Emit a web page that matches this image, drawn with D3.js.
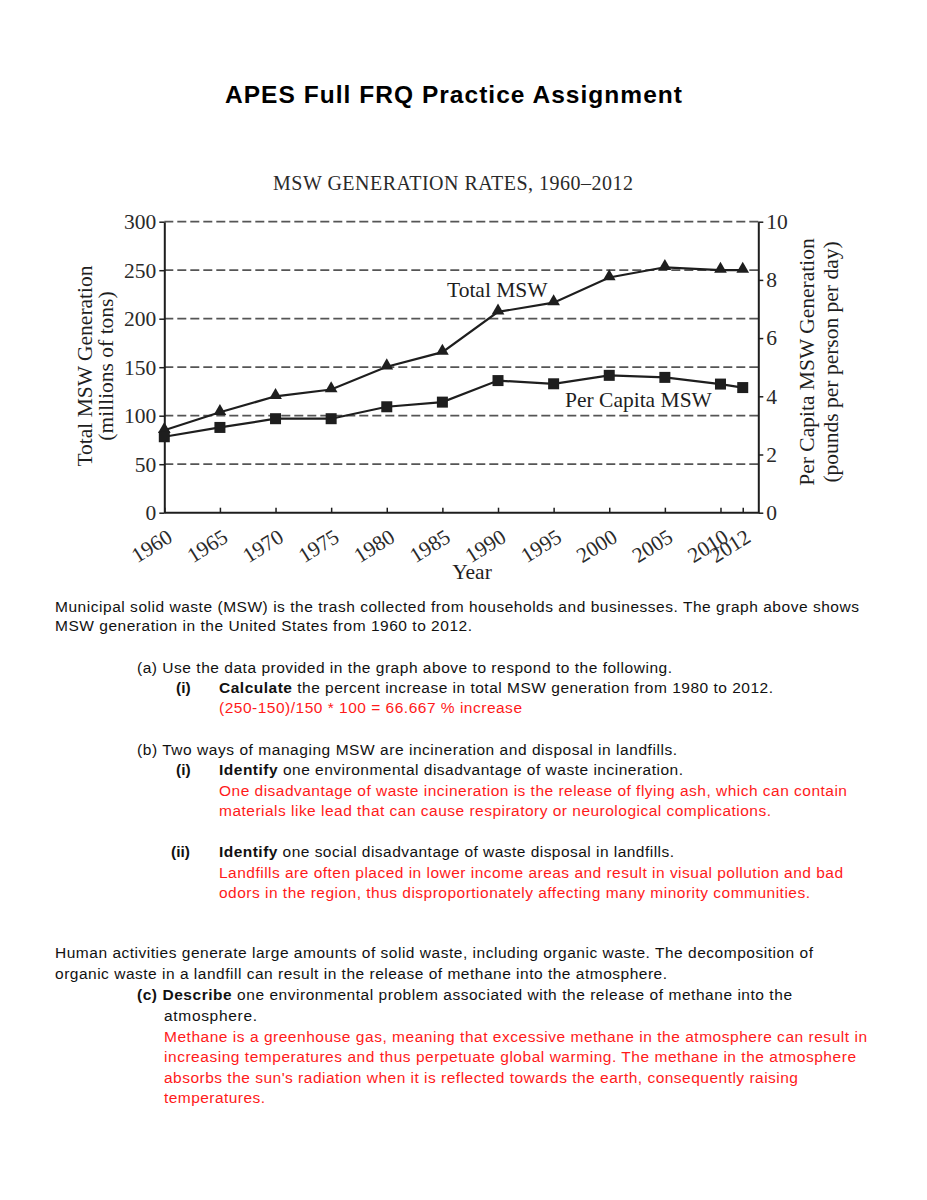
<!DOCTYPE html>
<html>
<head>
<meta charset="utf-8">
<script src="https://cdn.jsdelivr.net/npm/d3@7"></script>
<style>
  body { margin: 0; background: #fff; }
  svg { display: block; }
</style>
</head>
<body>
<svg id="page" width="927" height="1200"></svg>
<script>
// chart data
var years = [1960, 1965, 1970, 1975, 1980, 1985, 1990, 1995, 2000, 2005, 2010, 2012];
var totalMsw = [85, 103.5, 120, 127, 150.5, 165.5, 207, 216.5, 242.5, 253, 250, 250];   // millions of tons
var perCapita = [2.61, 2.93, 3.23, 3.23, 3.64, 3.80, 4.54, 4.43, 4.72, 4.65, 4.42, 4.30]; // lb per person per day
var leftTicks = [0, 50, 100, 150, 200, 250, 300];
var rightTicks = [0, 2, 4, 6, 8, 10];

var svg = d3.select("#page");
var serif = "'Liberation Serif', 'Times New Roman', serif";
var sans = "'Liberation Sans', Arial, sans-serif";
var ink = "#1e1e1e";

// stretch a text element's letter spacing so it ends at x1
function fitTo(sel, x0, x1) {
  var el = sel.node();
  var n = el.textContent.length;
  var w = el.getComputedTextLength();
  var ls = (x1 - x0 - w) / Math.max(1, n - 1);
  sel.style("letter-spacing", ls + "px");
}

// page title
var title = svg.append("text")
    .attr("x", 225).attr("y", 103)
    .attr("font-family", sans).attr("font-weight", "bold").attr("font-size", 24.5)
    .attr("fill", "#000")
    .text("APES Full FRQ Practice Assignment");
fitTo(title, 225, 682);

// ---------- chart ----------
var x = d3.scaleLinear().domain([1960, 2013.4]).range([164.3, 758.3]);
var y = d3.scaleLinear().domain([0, 300]).range([512.7, 221.7]);
var y2 = d3.scaleLinear().domain([0, 10]).range([512.7, 221.7]);

var chart = svg.append("g").attr("font-family", serif).attr("fill", ink);

var ct = chart.append("text")
    .attr("x", 273).attr("y", 190)
    .attr("font-size", 20).attr("fill", "#2a2a2a")
    .text("MSW GENERATION RATES, 1960\u20132012");
fitTo(ct, 273, 633);

// dashed grid
chart.append("g").selectAll("line")
    .data(leftTicks.filter(function(d) { return d > 0; }))
    .enter().append("line")
      .attr("x1", x(1960)).attr("x2", x.range()[1])
      .attr("y1", function(d) { return y(d); })
      .attr("y2", function(d) { return y(d); })
      .attr("stroke", "#555").attr("stroke-width", 1.7)
      .attr("stroke-dasharray", "9,4");

function styleAxis(g) {
  g.select(".domain").attr("stroke", ink).attr("stroke-width", 2);
  g.selectAll(".tick line").attr("stroke", ink).attr("stroke-width", 1.5);
  g.selectAll(".tick text").attr("font-family", serif).attr("font-size", 21.5).attr("fill", "#2a2a2a");
}

chart.append("g")
    .attr("transform", "translate(" + x(1960) + ",0)")
    .call(d3.axisLeft(y).tickValues(leftTicks).tickSize(5).tickSizeOuter(0).tickPadding(3))
    .call(styleAxis);

chart.append("g")
    .attr("transform", "translate(" + x.range()[1] + ",0)")
    .call(d3.axisRight(y2).tickValues(rightTicks).tickSize(5).tickSizeOuter(0).tickPadding(3))
    .call(styleAxis);

var xAxis = chart.append("g")
    .attr("transform", "translate(0," + y(0) + ")")
    .call(d3.axisBottom(x).tickValues(years).tickSize(-5).tickSizeOuter(0).tickFormat(d3.format("d")))
    .call(styleAxis);
xAxis.select(".domain").attr("d", "M" + x(1960) + ",0H" + x.range()[1]);
xAxis.selectAll(".tick text")
    .attr("text-anchor", "end")
    .attr("dy", null)
    .attr("y", 0)
    .attr("transform", "translate(9,28) rotate(-32)");

// axis titles
chart.append("text")
    .attr("transform", "translate(92,366) rotate(-90)")
    .attr("text-anchor", "middle").attr("font-size", 21.5)
    .text("Total MSW Generation");
chart.append("text")
    .attr("transform", "translate(113,366) rotate(-90)")
    .attr("text-anchor", "middle").attr("font-size", 21.5)
    .text("(millions of tons)");
chart.append("text")
    .attr("transform", "translate(814,362) rotate(-90)")
    .attr("text-anchor", "middle").attr("font-size", 21.5)
    .text("Per Capita MSW Generation");
chart.append("text")
    .attr("transform", "translate(838,362) rotate(-90)")
    .attr("text-anchor", "middle").attr("font-size", 21.5)
    .text("(pounds per person per day)");
chart.append("text")
    .attr("x", 472).attr("y", 579)
    .attr("text-anchor", "middle").attr("font-size", 21.5)
    .text("Year");

// series
var totalLine = d3.line()
    .x(function(d, i) { return x(years[i]); })
    .y(function(d) { return y(d); });
var capLine = d3.line()
    .x(function(d, i) { return x(years[i]); })
    .y(function(d) { return y2(d); });

chart.append("path").datum(totalMsw)
    .attr("d", totalLine).attr("fill", "none")
    .attr("stroke", ink).attr("stroke-width", 2.2);
chart.append("path").datum(perCapita)
    .attr("d", capLine).attr("fill", "none")
    .attr("stroke", ink).attr("stroke-width", 2.2);

var tri = d3.symbol().type(d3.symbolTriangle).size(70);
chart.append("g").selectAll("path")
    .data(totalMsw)
    .enter().append("path")
      .attr("d", tri)
      .attr("transform", function(d, i) { return "translate(" + x(years[i]) + "," + (y(d) - 1) + ")"; })
      .attr("fill", ink);

chart.append("g").selectAll("rect")
    .data(perCapita)
    .enter().append("rect")
      .attr("x", function(d, i) { return x(years[i]) - 5.5; })
      .attr("y", function(d) { return y2(d) - 5.5; })
      .attr("width", 11).attr("height", 11)
      .attr("fill", ink);

chart.append("text")
    .attr("x", 447).attr("y", 297).attr("font-size", 21.5)
    .text("Total MSW");
chart.append("text")
    .attr("x", 565).attr("y", 407).attr("font-size", 21.5)
    .text("Per Capita MSW");

// ---------- question text ----------
var RED = "#ff1a1a";
var textLines = [
  { x: 55, y: 611.5, end: 859, segs: [["Municipal solid waste (MSW) is the trash collected from households and businesses. The graph above shows"]] },
  { x: 55, y: 631, end: 472, segs: [["MSW generation in the United States from 1960 to 2012."]] },
  { x: 137, y: 673, end: 672, segs: [["(a) Use the data provided in the graph above to respond to the following."]] },
  { x: 176, y: 693, segs: [["(i)", "b"]] },
  { x: 219, y: 693, end: 773, segs: [["Calculate", "b"], [" the percent increase in total MSW generation from 1980 to 2012."]] },
  { x: 219, y: 713, end: 522, red: true, segs: [["(250-150)/150 * 100 = 66.667 % increase"]] },
  { x: 137, y: 755, end: 677, segs: [["(b) Two ways of managing MSW are incineration and disposal in landfills."]] },
  { x: 176, y: 775, segs: [["(i)", "b"]] },
  { x: 219, y: 775, end: 683, segs: [["Identify", "b"], [" one environmental disadvantage of waste incineration."]] },
  { x: 219, y: 795.5, end: 847, red: true, segs: [["One disadvantage of waste incineration is the release of flying ash, which can contain"]] },
  { x: 219, y: 816, end: 771, red: true, segs: [["materials like lead that can cause respiratory or neurological complications."]] },
  { x: 171, y: 857, segs: [["(ii)", "b"]] },
  { x: 219, y: 857, end: 674, segs: [["Identify", "b"], [" one social disadvantage of waste disposal in landfills."]] },
  { x: 219, y: 877.5, end: 843, red: true, segs: [["Landfills are often placed in lower income areas and result in visual pollution and bad"]] },
  { x: 219, y: 898, end: 810, red: true, segs: [["odors in the region, thus disproportionately affecting many minority communities."]] },
  { x: 55, y: 958, end: 813, segs: [["Human activities generate large amounts of solid waste, including organic waste. The decomposition of"]] },
  { x: 55, y: 979, end: 667, segs: [["organic waste in a landfill can result in the release of methane into the atmosphere."]] },
  { x: 137, y: 1000, end: 792, segs: [["(c) ", "b"], ["Describe", "b"], [" one environmental problem associated with the release of methane into the"]] },
  { x: 164, y: 1021, end: 257, segs: [["atmosphere."]] },
  { x: 164, y: 1041.5, end: 867, red: true, segs: [["Methane is a greenhouse gas, meaning that excessive methane in the atmosphere can result in"]] },
  { x: 164, y: 1062, end: 856, red: true, segs: [["increasing temperatures and thus perpetuate global warming. The methane in the atmosphere"]] },
  { x: 164, y: 1082.5, end: 798, red: true, segs: [["absorbs the sun's radiation when it is reflected towards the earth, consequently raising"]] },
  { x: 164, y: 1103, end: 265, red: true, segs: [["temperatures."]] }
];

var body = svg.append("g").attr("font-family", sans).attr("font-size", 15.5);
textLines.forEach(function(l) {
  var t = body.append("text")
      .attr("x", l.x).attr("y", l.y)
      .attr("fill", l.red ? RED : "#111")
      .attr("xml:space", "preserve")
      .style("white-space", "pre");
  l.segs.forEach(function(s) {
    t.append("tspan")
        .attr("font-weight", s[1] === "b" ? "bold" : null)
        .text(s[0]);
  });
  if (l.end) fitTo(t, l.x, l.end);
});
</script>
</body>
</html>
